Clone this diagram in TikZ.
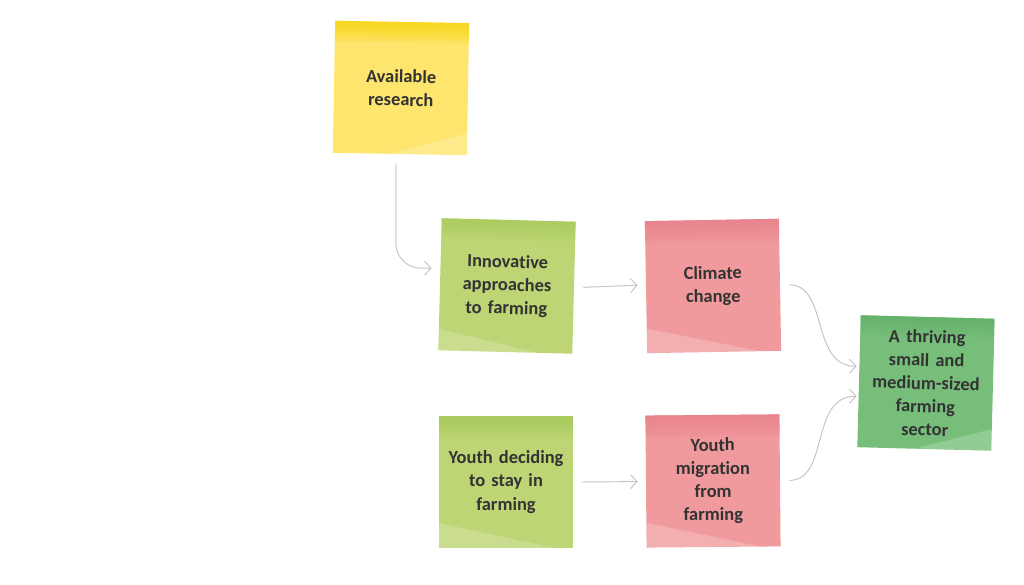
\documentclass[tikz,border=0pt]{standalone}
\usepackage{fontspec}
\setmainfont[Ligatures={NoCommon}]{Carlito}
\usetikzlibrary{calc,arrows.meta}
\definecolor{ink}{HTML}{333333}
\definecolor{linkgray}{HTML}{C4C4C4}
\definecolor{yellownote}{HTML}{FDE56E}
\definecolor{yellowtop}{HTML}{F8D400}
\definecolor{limenote}{HTML}{BDD574}
\definecolor{limetop}{HTML}{A5C95A}
\definecolor{pinknote}{HTML}{F09A9D}
\definecolor{pinktop}{HTML}{E9808A}
\definecolor{greennote}{HTML}{78BE7B}
\definecolor{greentop}{HTML}{5EAF66}
\tikzset{
	sticky/.style 2 args={minimum width=2.68cm, minimum height=2.64cm, text width=2.5cm, align=center, inner sep=0pt,
		font=\bfseries\fontsize{10.5}{13.2}\selectfont, text=ink, fill=#1,
		path picture={\foreach \k in {1,...,7} \fill[#2, opacity=0.16] (path picture bounding box.north west) rectangle ([yshift=-\k*0.065cm]path picture bounding box.north east);}},
	peelleft/.style={postaction={path picture={\fill[white, opacity=0.2] (path picture bounding box.south west) -- ([yshift=0.5cm]path picture bounding box.south west) -- ([xshift=2.3cm]path picture bounding box.south west) -- cycle;}}},
	peelright/.style={postaction={path picture={\fill[white, opacity=0.2] (path picture bounding box.south east) -- ([yshift=0.45cm]path picture bounding box.south east) -- ([xshift=-1.6cm]path picture bounding box.south east) -- cycle;}}},
	link/.style={draw=linkgray, line width=0.55pt, -{Straight Barb[length=1.3mm, width=2.8mm]}, shorten <=0.18cm, shorten >=0.16cm}
}

\begin{document}
\begin{tikzpicture}
			%%%%% START %%%%%
			
			\useasboundingbox (0, 0) rectangle (20.48, 11.7);
			
			\node[sticky={yellownote}{yellowtop}, peelright, rotate=-1] (research) at (8.02, 9.94) {Available\\research};
			\node[sticky={limenote}{limetop}, peelleft, rotate=-1.5] (innovative) at (10.14, 5.98) {Innovative\\approaches\\to farming};
			\node[sticky={pinknote}{pinktop}, peelleft, rotate=1] (climate) at (14.26, 5.98) {Climate\\change};
			\node[sticky={limenote}{limetop}, peelleft] (staying) at (10.12, 2.06) {Youth deciding\\to stay in\\farming};
			\node[sticky={pinknote}{pinktop}, peelleft, rotate=0.5] (migration) at (14.26, 2.08) {Youth\\migration\\from\\farming};
			\node[sticky={greennote}{greentop}, peelright, rotate=-1.5] (sector) at (18.52, 4.04) {A thriving\\small and\\medium-sized\\farming\\sector};
			
			\draw[link, rounded corners=0.5cm] ([xshift=-0.08cm]research.south) |- ([yshift=0.32cm]innovative.west);
			\draw[link] (innovative.east) -- (climate.east -| climate.west);
			\draw[link] (staying.east) -- (migration.west);
			\draw[link, shorten >=0.04cm] (climate.east) to[out=0, in=180, looseness=1.1] ([yshift=0.3cm]sector.west);
			\draw[link, shorten >=0.04cm] (migration.east) to[out=0, in=180, looseness=1.1] ([yshift=-0.3cm]sector.west);
			
			%%%%% END %%%%%
		\end{tikzpicture}
\end{document}
